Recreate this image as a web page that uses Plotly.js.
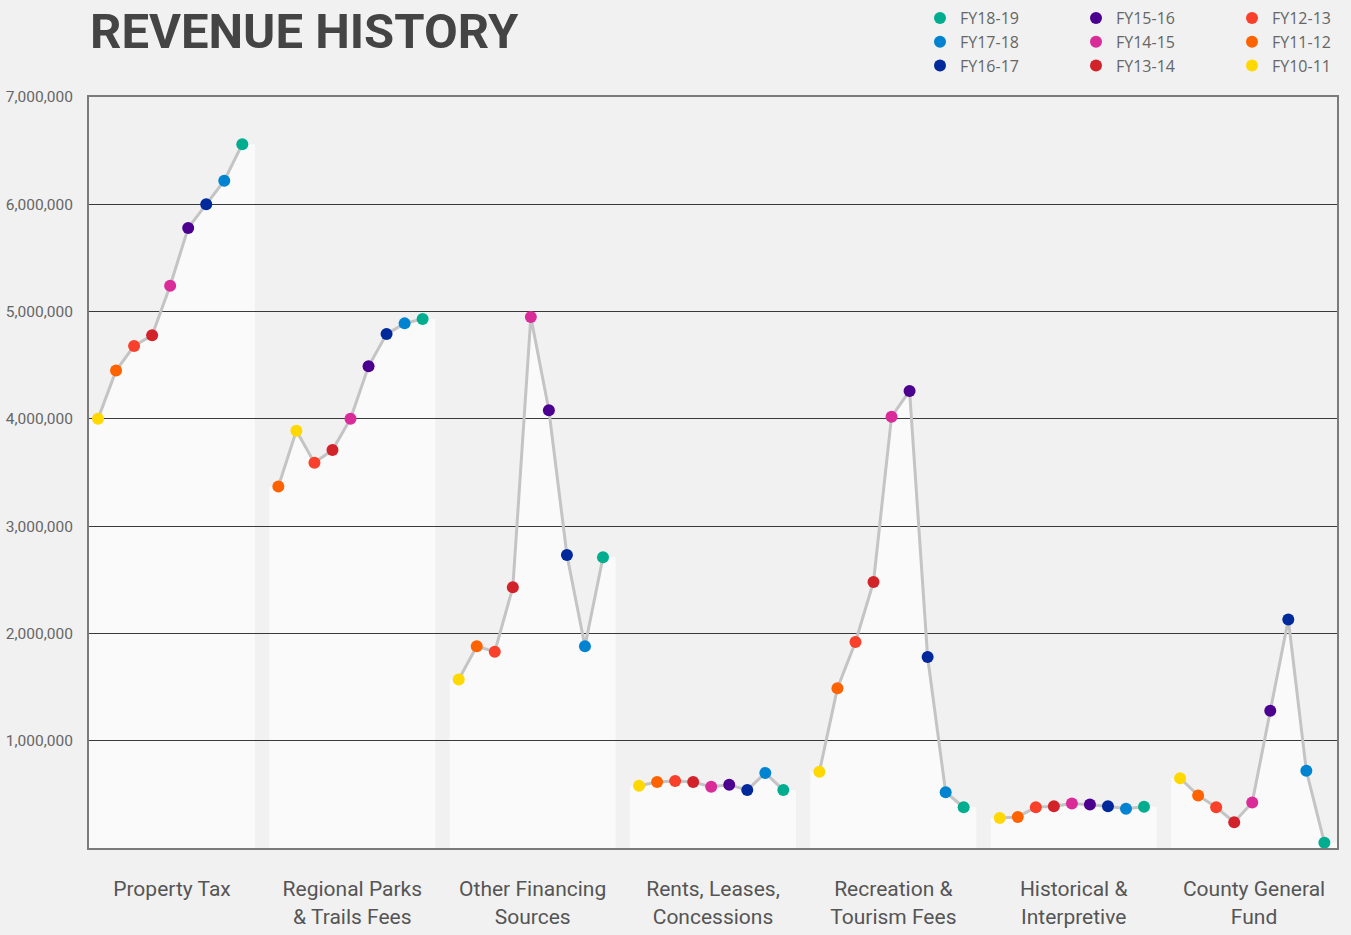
<!DOCTYPE html>
<html>
<head>
<meta charset="utf-8">
<script src="https://cdn.plot.ly/plotly-3.0.1.min.js"></script>
<style>html,body{margin:0;padding:0;background:#f1f1f1;}</style>
</head>
<body>
<div id="chart" style="width:1351px;height:935px;"></div>
<script>
// ---- data ----
const categories = [
  'Property Tax',
  'Regional Parks<br>& Trails Fees',
  'Other Financing<br>Sources',
  'Rents, Leases,<br>Concessions',
  'Recreation &<br>Tourism Fees',
  'Historical &<br>Interpretive',
  'County General<br>Fund'
];
const years = ['FY10-11','FY11-12','FY12-13','FY13-14','FY14-15','FY15-16','FY16-17','FY17-18','FY18-19'];
const yearColors = ['#ffd800','#ff6200','#f8402a','#d2232b','#d92c98','#4c008f','#00299b','#0083d1','#00ad8f'];

// values by fiscal year (FY10-11 ... FY18-19)
const propertyTax       = [4000000, 4450000, 4680000, 4780000, 5240000, 5780000, 6000000, 6220000, 6560000];
const regionalParks     = [3890000, 3370000, 3590000, 3710000, 4000000, 4490000, 4790000, 4890000, 4930000];
const otherFinancing    = [1570000, 1880000, 1830000, 2430000, 4950000, 4080000, 2730000, 1880000, 2710000];
const rentsLeases       = [ 580000,  615000,  625000,  615000,  570000,  590000,  540000,  700000,  540000];
const recreationTourism = [ 710000, 1490000, 1920000, 2480000, 4020000, 4260000, 1780000,  520000,  380000];
const historical        = [ 280000,  290000,  380000,  390000,  415000,  405000,  390000,  365000,  385000];
const countyGeneral     = [ 650000,  490000,  380000,  240000,  425000, 1280000, 2130000,  720000,   50000];

// order in which the years appear left to right within each category
const defaultOrder = [0,1,2,3,4,5,6,7,8];
const regionalOrder = [1,0,2,3,4,5,6,7,8];

const yTicks = [1000000,2000000,3000000,4000000,5000000,6000000,7000000];

// ---- build ----
const series = [propertyTax, regionalParks, otherFinancing, rentsLeases, recreationTourism, historical, countyGeneral];
const orders = [defaultOrder, regionalOrder, defaultOrder, defaultOrder, defaultOrder, defaultOrder, defaultOrder];
const GROUP = 10, PAD_L = 0.5, PAD_R = 0.7;

function slotOf(g, yi) { return orders[g].indexOf(yi); }

const traces = [];
const shapes = [];

series.forEach((vals, g) => {
  const xs = [], ys = [];
  orders[g].forEach((yi, s) => { xs.push(g * GROUP + s); ys.push(vals[yi]); });
  // white area under the line
  const x0 = g * GROUP - PAD_L, x1 = g * GROUP + (xs.length - 1) + PAD_R;
  let p = `M${x0},0 L${x0},${ys[0]}`;
  xs.forEach((x, i) => { p += ` L${x},${ys[i]}`; });
  p += ` L${x1},${ys[ys.length - 1]} L${x1},0 Z`;
  shapes.push({type:'path', xref:'x', yref:'y', path:p, fillcolor:'#fafafa', line:{width:0}, layer:'below'});
  traces.push({
    type:'scatter', mode:'lines', x:xs, y:ys,
    line:{color:'#c4c4c4', width:3}, showlegend:false, hoverinfo:'skip', cliponaxis:false
  });
});

// markers: one trace per fiscal year, newest first (legend order)
for (let yi = years.length - 1; yi >= 0; yi--) {
  const xs = [], ys = [];
  series.forEach((vals, g) => { xs.push(g * GROUP + slotOf(g, yi)); ys.push(vals[yi]); });
  const rank = years.length - 1 - yi;
  traces.push({
    type:'scatter', mode:'markers', name:years[yi], x:xs, y:ys,
    marker:{color:yearColors[yi], size:12},
    cliponaxis:false,
    legend: rank < 3 ? 'legend' : (rank < 6 ? 'legend2' : 'legend3')
  });
}

const labelFont = 'Roboto, sans-serif';
const legendFont = {family:'Open Sans, Noto Sans, sans-serif', size:16, color:'#666'};
function legendAt(x) {
  return {x:x, xref:'container', xanchor:'left', y:1 - 1/935, yref:'container', yanchor:'top',
          bgcolor:'rgba(0,0,0,0)', font:legendFont, itemwidth:30, tracegroupgap:0};
}

const layout = {
  width:1351, height:935,
  paper_bgcolor:'#f1f1f1', plot_bgcolor:'#f1f1f1',
  margin:{l:89, r:14, t:97, b:87, pad:0, autoexpand:false},
  title:{text:'<b>REVENUE HISTORY</b>', x:90/1351, xref:'container', xanchor:'left',
         y:1 - 31/935, yref:'container', yanchor:'middle',
         font:{family:labelFont, size:49, color:'#444'}},
  xaxis:{
    range:[-PAD_L, (series.length - 1) * GROUP + 8 + PAD_R],
    tickvals:categories.map((c, g) => g * GROUP + 4.1),
    ticktext:categories, tickangle:0,
    showgrid:false, zeroline:false, showline:true, mirror:true,
    linecolor:'#7a7a7a', linewidth:2, ticks:'', ticklabelstandoff:21,
    tickfont:{family:labelFont, size:21, color:'#555'}, fixedrange:true, automargin:false
  },
  yaxis:{
    range:[0, 7000000],
    tickvals:yTicks, tickformat:',d',
    showgrid:true, gridcolor:'#3a3a3a', gridwidth:1, zeroline:false,
    showline:true, mirror:true, linecolor:'#7a7a7a', linewidth:2,
    ticks:'', ticklabelstandoff:11,
    tickfont:{family:labelFont, size:15.5, color:'#666'}, fixedrange:true, automargin:false
  },
  shapes:shapes,
  legend:legendAt(920/1351),
  legend2:legendAt(1076/1351),
  legend3:legendAt(1232/1351),
  hovermode:false
};

Plotly.newPlot('chart', traces, layout, {displayModeBar:false, staticPlot:true});
</script>
</body>
</html>
